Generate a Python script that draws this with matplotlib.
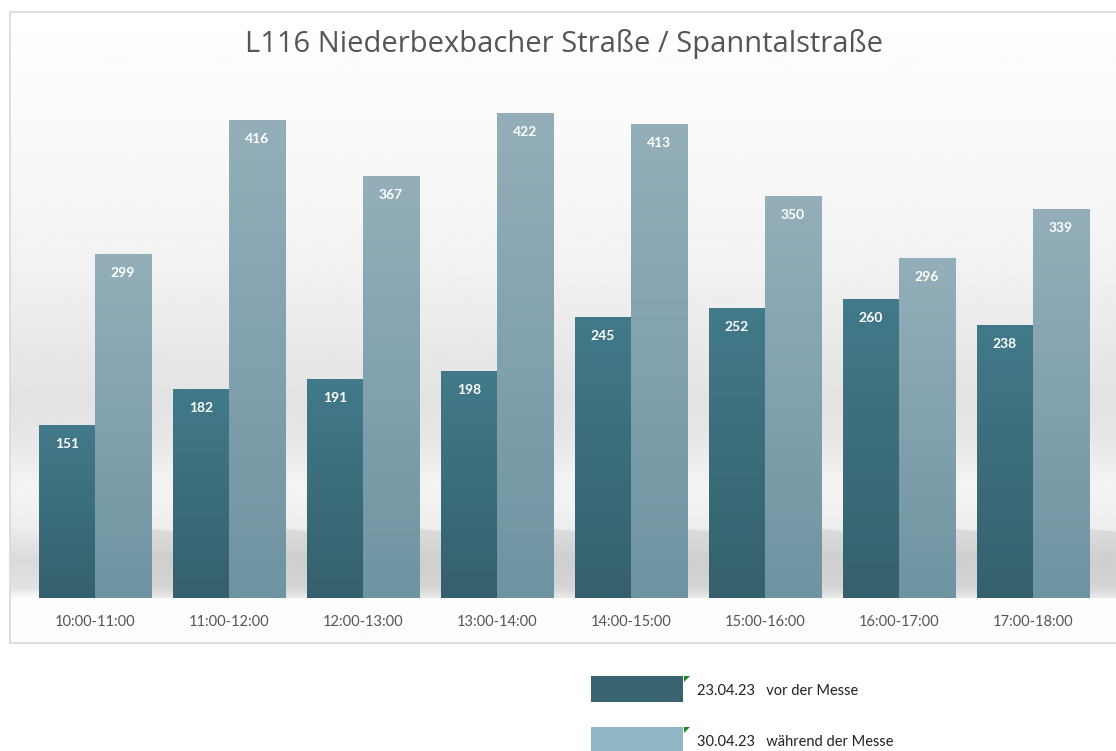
import numpy as np
import matplotlib
matplotlib.use("Agg")
from matplotlib import pyplot as plt
from matplotlib.patches import Rectangle, Polygon
from matplotlib.colors import LinearSegmentedColormap

# Daten
zeiten = ["10:00-11:00", "11:00-12:00", "12:00-13:00", "13:00-14:00",
          "14:00-15:00", "15:00-16:00", "16:00-17:00", "17:00-18:00"]
vor_messe = [151, 182, 191, 198, 245, 252, 260, 238]
waehrend_messe = [299, 416, 367, 422, 413, 350, 296, 339]
legende = ["23.04.23   vor der Messe", "30.04.23   während der Messe"]
titel = "L116 Niederbexbacher Straße / Spanntalstraße"

W, H = 1116, 751
fig = plt.figure(figsize=(W / 100, H / 100), dpi=100)
fig.patch.set_facecolor("white")


def fx(px):
    return px / W


def fy(py):
    return 1 - py / H


# Hintergrund mit Verlauf (Rahmen)
bg = fig.add_axes([fx(10), fy(643), fx(1112), (643 - 12) / H], zorder=0)
stops_y = [12, 100, 250, 400, 440, 485, 525, 560, 588, 598, 643]
stops_v = [255, 251, 243, 227, 231, 244, 238, 218, 226, 252, 253]
yy = np.arange(12, 644)
vals = np.interp(yy, stops_y, stops_v) / 255.0
img = np.repeat(vals[:, None], 2, axis=1)
bg.imshow(img, cmap="gray", vmin=0, vmax=1, aspect="auto",
          extent=[0, 1, 0, 1], interpolation="bilinear")
bg.set_xticks([])
bg.set_yticks([])
for s in bg.spines.values():
    s.set_color("#d9d9d9")
    s.set_linewidth(1.2)

# Diagramm
ax = fig.add_axes([fx(10), fy(598), fx(1106), (598 - 81) / H], zorder=1)
ax.patch.set_alpha(0)
x = np.arange(len(zeiten))
breite = 0.418
ax.set_xlim((10 - 95) / 134, (1116 - 95) / 134)
ax.set_ylim(0, 450)

dunkel = LinearSegmentedColormap.from_list("d", ["#35606d", "#427a89"])
hell = LinearSegmentedColormap.from_list("h", ["#6e94a1", "#94afba"])
grad = np.linspace(0, 1, 256)[:, None]

# Schatten hinter den Balken
for i in range(len(zeiten)):
    xr = x[i] + breite
    sh = Polygon([[xr, 0], [xr, 60], [xr + 0.45, 55], [xr + 0.5, 0]],
                 closed=True, facecolor="#9a9a9a", alpha=0.18,
                 edgecolor="none", zorder=1)
    ax.add_patch(sh)

for werte, off, cmap in [(vor_messe, -breite / 2, dunkel),
                         (waehrend_messe, breite / 2, hell)]:
    bars = ax.bar(x + off, werte, width=breite, color="none",
                  edgecolor="none", zorder=2)
    for b, v in zip(bars, werte):
        x0 = b.get_x()
        im = ax.imshow(grad, cmap=cmap, origin="lower", aspect="auto",
                       extent=[x0, x0 + breite, 0, v], zorder=2,
                       interpolation="bilinear")
        im.set_clip_path(b)
        ax.text(x0 + breite / 2, v - 19 / 1.149, str(v), ha="center",
                va="center", color="white", fontsize=10, fontweight="bold",
                family="Lato", zorder=3)

ax.set_xlim((10 - 95) / 134, (1116 - 95) / 134)
ax.set_ylim(0, 450)
ax.set_xticks(x)
ax.set_xticklabels(zeiten, fontsize=10.5, color="#555555", family="Lato")
ax.tick_params(axis="x", length=0, pad=12)
ax.set_yticks([])
for s in ax.spines.values():
    s.set_visible(False)

fig.text(fx(564), fy(44), titel, ha="center", va="center", fontsize=21,
         color="#555555", family="Open Sans")

# Legende
for i, (txt, farbe) in enumerate(zip(legende, ["#3a6370", "#8fb7c5"])):
    top = 676 + i * 51
    fig.patches.append(Rectangle((fx(591), fy(top + 26)), fx(92), 26 / H,
                                 transform=fig.transFigure,
                                 facecolor=farbe, edgecolor="none"))
    fig.patches.append(Polygon([[fx(684), fy(top)], [fx(690), fy(top)],
                                [fx(684), fy(top + 6)]], closed=True,
                               transform=fig.transFigure,
                               facecolor="#1a8a1a", edgecolor="none"))
    fig.text(fx(697), fy(top + 15), txt, ha="left", va="center",
             fontsize=10.5, color="#222222", family="Lato")

fig.savefig("out.png", dpi=100)
